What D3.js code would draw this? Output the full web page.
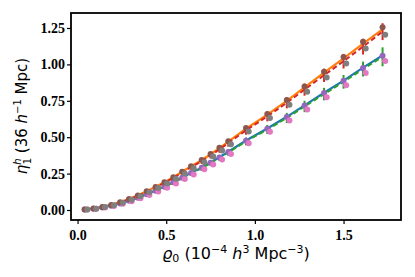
<!DOCTYPE html>
<html><head><meta charset="utf-8">
<script src="https://cdn.jsdelivr.net/npm/d3@7"></script>
<style>body{margin:0;background:#fff}svg{display:block}</style>
</head><body><div id="chart"></div>
<script>
// data
const xA = [0.04,0.09,0.14,0.19,0.24,0.29,0.34,0.39,0.44,0.49,0.54,0.59,0.64,0.70,0.75,0.80,0.85,0.95,1.07,1.18,1.28,1.39,1.50,1.61,1.72];
const brownY = [0.003,0.010,0.021,0.035,0.053,0.075,0.100,0.128,0.158,0.190,0.225,0.263,0.300,0.343,0.385,0.427,0.472,0.563,0.660,0.755,0.848,0.950,1.050,1.155,1.255];
const orangeY = [0.003,0.010,0.021,0.036,0.054,0.076,0.101,0.129,0.159,0.191,0.226,0.263,0.300,0.342,0.383,0.425,0.469,0.558,0.655,0.750,0.842,0.943,1.041,1.142,1.240];
const redY = [0.003,0.010,0.020,0.034,0.052,0.073,0.098,0.125,0.155,0.186,0.220,0.257,0.293,0.335,0.375,0.416,0.460,0.547,0.643,0.736,0.827,0.925,1.022,1.122,1.225];
const redErr = [0.001,0.002,0.003,0.004,0.005,0.006,0.007,0.008,0.010,0.011,0.013,0.015,0.017,0.019,0.021,0.023,0.025,0.030,0.034,0.038,0.042,0.046,0.050,0.054,0.058];
const grayX = [0.055,0.105,0.155,0.205,0.255,0.305,0.355,0.405,0.455,0.505,0.555,0.605,0.655,0.715,0.765,0.815,0.865,0.965,1.085,1.195,1.295,1.405,1.515,1.625,1.735];
const grayY = [0.003,0.009,0.020,0.033,0.050,0.071,0.095,0.122,0.151,0.182,0.215,0.251,0.287,0.328,0.368,0.408,0.452,0.539,0.632,0.723,0.812,0.910,1.007,1.110,1.203];
const purpleY = [0.003,0.009,0.018,0.030,0.045,0.063,0.084,0.108,0.133,0.160,0.190,0.222,0.254,0.290,0.325,0.361,0.399,0.476,0.558,0.638,0.717,0.803,0.887,0.976,1.060];
const blueY = [0.003,0.009,0.018,0.031,0.046,0.064,0.085,0.109,0.134,0.161,0.191,0.223,0.255,0.291,0.326,0.362,0.400,0.477,0.560,0.640,0.719,0.805,0.889,0.978,1.062];
const greenY = [0.003,0.009,0.018,0.030,0.045,0.062,0.083,0.107,0.132,0.159,0.188,0.220,0.252,0.287,0.322,0.358,0.395,0.471,0.553,0.632,0.711,0.796,0.880,0.968,1.052];
const greenErr = [0.001,0.002,0.003,0.004,0.005,0.006,0.007,0.008,0.009,0.010,0.012,0.013,0.015,0.017,0.019,0.021,0.023,0.027,0.031,0.035,0.039,0.043,0.047,0.051,0.065];
const pinkX = grayX;
const pinkY = [0.003,0.008,0.017,0.028,0.043,0.060,0.080,0.103,0.127,0.153,0.182,0.213,0.244,0.279,0.313,0.347,0.384,0.458,0.538,0.615,0.691,0.774,0.856,0.941,1.023];
const xTicks = [0.0,0.5,1.0,1.5];
const yTicks = [0.00,0.25,0.50,0.75,1.00,1.25];

const W=415,H=277;
const L=71,R=401,T=13,B=220;
const svg=d3.select("#chart").append("svg").attr("width",W).attr("height",H);
const x=d3.scaleLinear().domain([-0.037,1.824]).range([L,R]);
const y=d3.scaleLinear().domain([-0.0687,1.353]).range([B,T]);

const g=svg.append("g");
const line=(xs,ys)=>d3.line().x((d,i)=>x(xs[i])).y(d=>y(d))(ys);

g.append("path").attr("d",line(xA,orangeY)).attr("fill","none").attr("stroke","#ff7f0e").attr("stroke-width",2.2);
g.append("path").attr("d",line(xA,blueY)).attr("fill","none").attr("stroke","#1f77b4").attr("stroke-width",2.2);
function dashed(ys,errs,col){
  g.append("path").attr("d",line(xA,ys)).attr("fill","none").attr("stroke",col).attr("stroke-width",2).attr("stroke-dasharray","5,3");
  g.selectAll(null).data(ys).enter().append("line")
   .attr("x1",(d,i)=>x(xA[i])).attr("x2",(d,i)=>x(xA[i]))
   .attr("y1",(d,i)=>y(d-errs[i])).attr("y2",(d,i)=>y(d+errs[i]))
   .attr("stroke",col).attr("stroke-width",2);
}
dashed(redY,redErr,"#d62728");
dashed(greenY,greenErr,"#2ca02c");
function pts(xs,ys,col){
  g.selectAll(null).data(ys).enter().append("circle")
   .attr("cx",(d,i)=>x(xs[i])).attr("cy",d=>y(d)).attr("r",3).attr("fill",col);
}
pts(xA,purpleY,"#9467bd");
pts(pinkX,pinkY,"#e377c2");
pts(xA,brownY,"#8c564b");
pts(grayX,grayY,"#7f7f7f");

const xAxis=d3.axisBottom(x).tickValues(xTicks).tickFormat(d3.format(".1f")).tickSize(4).tickSizeOuter(0);
const yAxis=d3.axisLeft(y).tickValues(yTicks).tickFormat(d3.format(".2f")).tickSize(4).tickSizeOuter(0);
const gx=svg.append("g").attr("transform",`translate(0,${B})`).call(xAxis);
const gy=svg.append("g").attr("transform",`translate(${L},0)`).call(yAxis);
[gx,gy].forEach(a=>{a.select(".domain").remove();a.selectAll("line").attr("stroke","#000").attr("stroke-width",1.2);
 a.selectAll("text").attr("font-family","Liberation Serif, Times New Roman, serif").attr("font-weight","bold").attr("font-size",14).attr("fill","#000");});
gx.selectAll("text").attr("dy","0.95em");
gy.selectAll("text").attr("x",-6);
svg.append("rect").attr("x",L).attr("y",T).attr("width",R-L).attr("height",B-T).attr("fill","none").attr("stroke","#000").attr("stroke-width",1.8);

const xl=svg.append("text").attr("x",(L+R)/2).attr("y",259).attr("text-anchor","middle")
  .attr("font-family","DejaVu Sans").attr("font-size",16).attr("fill","#000");
xl.append("tspan").attr("font-style","italic").text("ϱ");
xl.append("tspan").attr("font-size",11).attr("dy",3).text("0");
xl.append("tspan").attr("dy",-3).text(" (10");
xl.append("tspan").attr("font-size",11).attr("dy",-6).text("−4");
xl.append("tspan").attr("dy",6).attr("font-style","italic").text(" h");
xl.append("tspan").attr("font-size",11).attr("dy",-6).text("3");
xl.append("tspan").attr("dy",6).text(" Mpc");
xl.append("tspan").attr("font-size",11).attr("dy",-6).text("−3");
xl.append("tspan").attr("dy",6).text(")");

const yl=svg.append("text").attr("transform","translate(27,116) rotate(-90)").attr("text-anchor","middle")
  .attr("font-family","DejaVu Sans").attr("font-size",15).attr("fill","#000");
yl.append("tspan").attr("font-style","italic").text("η");
yl.append("tspan").attr("font-size",10).attr("font-style","italic").attr("dy",-6).text("h");
yl.append("tspan").attr("font-size",10).attr("dx",-6).attr("dy",10).text("1");
yl.append("tspan").attr("dy",-4).text(" (36 ");
yl.append("tspan").attr("font-style","italic").text("h");
yl.append("tspan").attr("font-size",10).attr("dy",-6).text("−1");
yl.append("tspan").attr("dy",6).text(" Mpc)");
</script></body></html>
